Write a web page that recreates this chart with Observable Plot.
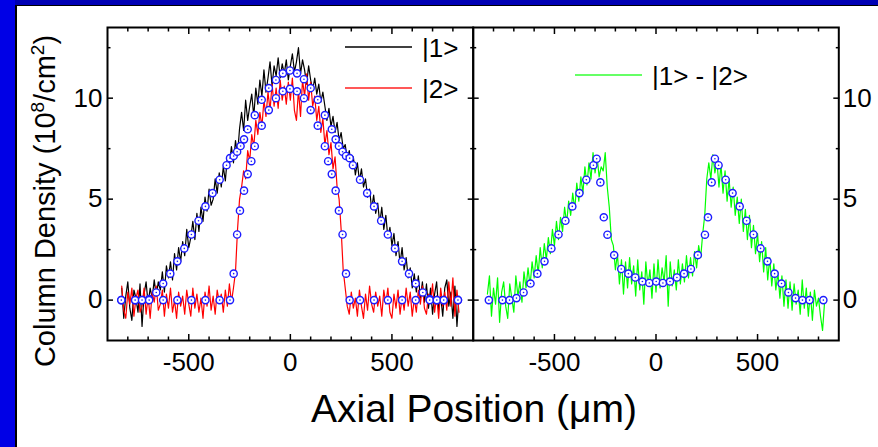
<!DOCTYPE html>
<html><head><meta charset="utf-8">
<script src="https://cdn.jsdelivr.net/npm/d3@7"></script>
<script src="https://cdn.jsdelivr.net/npm/@observablehq/plot@0.6"></script>
<style>
body{margin:0;background:#fff;}
#wrap{position:relative;width:878px;height:447px;overflow:hidden;background:#fff;font-family:"Liberation Sans",Arial,sans-serif;}
.abs{position:absolute;top:0;}
</style></head><body>
<div id="wrap">
<div style="position:absolute;left:0;top:0;width:878px;height:5px;background:#0000b4"></div>
<div style="position:absolute;left:0;top:0;width:15px;height:447px;background:#0000e6"></div>
<div style="position:absolute;left:15px;top:4.5px;width:863px;height:1.5px;background:#000"></div>
<div style="position:absolute;left:15px;top:4.5px;width:1.5px;height:443px;background:#000"></div>
<div id="left" class="abs" style="left:0"></div>
<div id="right" class="abs" style="left:400px"></div>
<svg class="abs" style="left:0;pointer-events:none" width="878" height="447" font-family="'Liberation Sans',Arial,sans-serif">
  <g id="legend"></g>
  <text x="474" y="421.5" text-anchor="middle" font-size="39">Axial Position (μm)</text>
  <text transform="translate(55,201) rotate(-90)" text-anchor="middle" font-size="29">Column Density (10<tspan font-size="19" dy="-11">8</tspan><tspan dy="11">/cm</tspan><tspan font-size="19" dy="-11">2</tspan><tspan dy="11">)</tspan></text>
</svg>
</div>
<script>
// Axial position grid (μm)
const xGrid = [
 -830,-820,-810,-800,-790,-780,-770,-760,-750,-740,
 -730,-720,-710,-700,-690,-680,-670,-660,-650,-640,
 -630,-620,-610,-600,-590,-580,-570,-560,-550,-540,
 -530,-520,-510,-500,-490,-480,-470,-460,-450,-440,
 -430,-420,-410,-400,-390,-380,-370,-360,-350,-340,
 -330,-320,-310,-300,-290,-280,-270,-260,-250,-240,
 -230,-220,-210,-200,-190,-180,-170,-160,-150,-140,
 -130,-120,-110,-100,-90,-80,-70,-60,-50,-40,
 -30,-20,-10,0,10,20,30,40,50,60,
 70,80,90,100,110,120,130,140,150,160,
 170,180,190,200,210,220,230,240,250,260,
 270,280,290,300,310,320,330,340,350,360,
 370,380,390,400,410,420,430,440,450,460,
 470,480,490,500,510,520,530,540,550,560,
 570,580,590,600,610,620,630,640,650,660,
 670,680,690,700,710,720,730,740,750,760,
 770,780,790,800,810,820,830];
// |1> column density (10^8/cm^2)
const state1 = [
 0.6,-0.9,0.2,0.9,-0.4,-1.0,0.5,0.1,-0.6,0.8,
 -1.3,0.3,0.9,-0.2,0.6,0.1,1.0,0.2,0.9,0.5,
 1.4,0.4,1.7,1.1,1.9,1.0,2.3,1.5,2.6,1.9,
 2.9,2.2,3.5,2.6,3.1,3.9,3.0,4.3,3.4,4.6,
 3.9,5.1,4.4,5.5,4.7,5.0,6.0,5.3,6.3,5.6,
 6.6,5.9,7.1,6.7,7.6,6.8,7.9,7.2,8.5,9.3,
 8.4,9.9,8.9,9.6,10.2,9.1,10.5,9.7,10.9,10.1,
 11.4,10.3,11.0,11.8,10.6,11.6,11.1,12.0,11.0,11.7,
 11.2,11.9,10.9,11.6,12.2,11.3,11.8,12.5,11.2,11.9,
 11.4,10.7,11.6,10.9,10.4,11.0,10.2,10.7,9.8,10.3,
 9.6,8.9,9.5,8.6,9.1,8.3,8.8,7.9,8.3,7.5,
 7.7,7.0,7.4,6.6,7.1,6.2,6.8,5.9,6.5,5.6,
 6.0,5.1,5.5,4.5,5.2,4.3,4.8,3.8,4.6,3.5,
 4.2,3.1,3.6,2.7,3.3,2.2,2.9,1.8,2.6,1.5,
 2.1,1.1,1.6,0.6,1.3,0.4,1.2,0.1,0.9,-0.1,
 0.8,-0.4,0.6,-0.7,0.3,0.9,-0.5,0.2,-0.8,0.6,
 1.0,-0.3,0.4,-0.9,0.7,-1.3,0.2];
// |2> column density
const state2 = [
 0.7,-0.5,-0.9,0.4,-0.2,0.6,-0.8,0.1,0.5,-0.6,
 -0.3,0.6,-0.7,0.2,-0.9,0.4,-0.1,0.7,-0.5,-0.2,
 0.5,-0.8,0.3,-0.4,0.6,-0.6,0.0,-0.9,0.4,-0.3,
 0.2,-0.7,0.5,-0.2,-0.8,0.6,-0.4,0.3,-0.6,0.1,
 -0.9,0.4,-0.3,0.7,-0.5,0.2,-0.7,0.5,-0.1,0.3,
 -0.6,0.5,-0.3,0.8,-0.1,0.6,1.4,3.5,5.0,5.6,
 6.4,6.0,7.4,6.9,8.2,7.6,8.9,8.2,9.3,8.6,
 9.9,9.1,10.3,9.4,10.7,9.6,10.5,9.5,10.9,9.9,
 10.6,9.7,10.8,9.9,11.0,9.4,8.9,10.4,9.1,10.9,
 10.1,11.2,9.9,10.8,9.6,10.1,8.9,9.6,8.3,9.0,
 7.7,8.4,7.2,7.8,6.5,7.1,5.6,5.0,3.5,1.5,
 0.6,-0.3,-0.7,0.4,-0.4,0.1,-0.8,0.5,-0.3,-0.9,
 0.3,-0.5,0.7,-0.2,-0.6,0.4,-0.3,0.2,-0.8,0.5,
 -0.2,0.6,-0.6,-0.9,0.3,-0.4,0.5,-0.7,0.2,-0.5,
 0.6,-0.3,0.4,-0.8,0.1,-0.6,0.5,-0.2,0.7,-0.4,
 -0.7,0.3,-0.1,0.8,-0.6,0.2,-0.9,0.6,-0.3,0.4,
 -0.5,0.9,-0.3,1.1,-0.8,0.5,-0.6];
// |1> - |2> column density
const diff12 = [
 0.3,1.2,-0.8,0.6,-0.2,1.1,-1.1,0.4,0.9,-0.3,
 -0.9,0.8,0.1,-0.6,1.2,0.2,0.9,-0.1,1.4,0.6,
 1.6,0.7,1.9,1.1,2.2,1.3,2.6,1.6,2.8,2.0,
 3.1,2.3,3.5,2.7,3.9,3.0,4.1,3.4,4.6,3.8,
 4.9,4.2,5.3,4.5,5.8,4.9,6.1,5.3,6.6,5.7,
 6.8,6.0,7.3,6.3,7.1,6.1,6.6,6.4,7.3,5.6,
 4.6,3.0,2.7,1.5,2.3,0.8,2.0,0.3,1.9,0.6,
 2.1,0.8,1.7,0.2,2.0,0.5,1.4,-0.2,1.9,0.7,
 1.5,0.1,1.8,0.4,2.0,0.6,1.6,0.9,2.2,-0.3,
 1.9,0.7,1.5,0.5,2.0,0.8,1.8,0.9,2.2,1.1,
 2.1,1.2,2.4,1.6,2.7,2.1,3.3,4.2,6.0,6.8,
 6.0,7.2,6.3,6.9,5.6,6.7,5.3,6.4,4.9,6.0,
 4.6,5.6,4.2,5.1,3.8,5.0,3.4,4.5,3.0,4.2,
 2.6,3.7,2.3,3.3,1.9,2.9,1.4,2.6,1.0,2.1,
 0.7,1.8,0.5,1.4,0.1,1.2,-0.3,1.0,-0.4,0.9,
 -0.5,0.8,-0.2,0.5,-0.7,1.0,-0.4,0.6,-0.8,0.4,
 -1.0,0.5,-0.3,0.1,-0.8,-1.5,-0.1];
// Fit points (open circles)
const fit1X = [-832,-764,-730,-695,-660,-626,-591,-556,-522,-487,-452,-418,-383,-348,-314,-297,-279,-262,-245,-228,-210,-175,-141,-106,-71,-37,-2,33,67,100,135,170,204,223,239,257,274,292,308,343,378,412,447,480,515,550,584,617,652,686,721,755,825];
const fit1Y = [0,0,0,0.05,0.38,0.82,1.31,1.92,2.56,3.25,3.93,4.64,5.3,5.96,6.68,7.03,7.14,7.35,7.63,7.96,8.46,9.16,9.92,10.5,10.9,11.23,11.37,11.23,10.94,10.5,9.92,9.16,8.46,7.96,7.63,7.35,7.14,7.03,6.68,5.96,5.3,4.64,3.93,3.25,2.56,1.92,1.31,0.82,0.38,0.05,0,0,0];
const fit2X = [-832,-764,-730,-695,-626,-556,-487,-418,-348,-297,-279,-262,-248,-228,-210,-192,-175,-141,-106,-71,-37,-2,33,67,100,135,170,186,204,223,239,257,274,292,343,412,480,550,617,686,721,755,825];
const fit2Y = [0,0,0,0,0,0,0,0,0,0,1.31,3.25,4.43,5.42,6.24,6.88,7.62,8.64,9.41,10.0,10.34,10.46,10.34,10.0,9.41,8.64,7.62,6.88,6.24,5.42,4.43,3.25,1.31,0,0,0,0,0,0,0,0,0,0];
const fitDX = [-823,-756,-721,-687,-652,-618,-584,-549,-515,-480,-446,-412,-377,-343,-308,-292,-274,-257,-239,-206,-171,-136,-102,-67,-33,1,34,69,103,138,172,206,241,256,274,290,308,343,377,412,446,480,515,549,584,618,652,687,721,756,824];
const fitDY = [0,0,0,0.1,0.38,0.82,1.31,1.92,2.56,3.25,3.93,4.64,5.3,5.96,6.68,7.0,5.83,4.1,3.24,2.23,1.54,1.31,1.12,0.92,0.85,0.92,0.85,0.92,1.12,1.31,1.54,2.23,3.24,4.1,5.83,7.0,6.68,5.96,5.3,4.64,3.93,3.25,2.56,1.92,1.31,0.82,0.38,0.1,0,0,0];
// Ticks
const xMajorTicks = [-500, 0, 500];
const xMinorTicks = [-800,-700,-600,-400,-300,-200,-100,100,200,300,400,600,700,800];
const yMajorTicks = [0, 5, 10];
const yMinorTicks = [2.5, 7.5, 12.5];
const legendLeft = ["|1>", "|2>"];
const legendRight = ["|1> - |2>"];

const toPts = (xs, ys) => xs.map((x, i) => ({x, y: ys[i]}));
const d1 = toPts(xGrid, state1), d2 = toPts(xGrid, state2), dd = toPts(xGrid, diff12);
const f1 = toPts(fit1X, fit1Y), f2 = toPts(fit2X, fit2Y), fd = toPts(fitDX, fitDY);
const BLUE = "#1c1cff";
const font = "'Liberation Sans', Arial, sans-serif";

function frameMarks(side) {
  return [
    Plot.frame({stroke: "black", strokeWidth: 2}),
    Plot.axisX(xMajorTicks, {anchor: "bottom", tickSize: -6, strokeWidth: 1.5, fill: "none", label: null}),
    Plot.axisX(xMinorTicks, {anchor: "bottom", tickSize: -3.5, strokeWidth: 1.5, fill: "none", label: null}),
    Plot.axisX(xMajorTicks, {anchor: "top", tickSize: -6, strokeWidth: 1.5, fill: "none", label: null}),
    Plot.axisX(xMinorTicks, {anchor: "top", tickSize: -3.5, strokeWidth: 1.5, fill: "none", label: null}),
    Plot.axisY(yMajorTicks, {anchor: "left", tickSize: -6, strokeWidth: 1.5, fill: "none", label: null}),
    Plot.axisY(yMinorTicks, {anchor: "left", tickSize: -3.5, strokeWidth: 1.5, fill: "none", label: null}),
    Plot.axisY(yMajorTicks, {anchor: "right", tickSize: -6, strokeWidth: 1.5, fill: "none", label: null}),
    Plot.axisY(yMinorTicks, {anchor: "right", tickSize: -3.5, strokeWidth: 1.5, fill: "none", label: null}),
    Plot.axisX(xMajorTicks, {anchor: "bottom", tickSize: 0, tickPadding: 12, tickFormat: d => String(d), fontSize: 26, label: null}),
    Plot.axisY(yMajorTicks, {anchor: side, tickSize: 0, tickPadding: side === "left" ? 5 : 4, tickFormat: d => String(d), fontSize: 26, label: null})
  ];
}

function fitDots(data) {
  return [
    Plot.dot(data, {x: "x", y: "y", r: 3.6, stroke: BLUE, fill: "white", strokeWidth: 1.4}),
    Plot.dot(data, {x: "x", y: "y", r: 0.8, fill: BLUE, stroke: "none"})
  ];
}

const common = {
  height: 380, marginTop: 27, marginBottom: 40,
  x: {domain: [-900, 900], label: null},
  y: {domain: [-2, 13.5], label: null},
  style: {fontFamily: font, fontSize: "26px", background: "transparent", color: "black", overflow: "visible"}
};

const left = Plot.plot({
  ...common, width: 478, marginLeft: 107, marginRight: 5.3,
  marks: [
    Plot.line(d1, {x: "x", y: "y", stroke: "black", strokeWidth: 1.2}),
    Plot.line(d2, {x: "x", y: "y", stroke: "#ff0000", strokeWidth: 1.2}),
    ...fitDots(f1), ...fitDots(f2),
    ...frameMarks("left")
  ]
});
const right = Plot.plot({
  ...common, width: 478, marginLeft: 72.7, marginRight: 39.7,
  marks: [
    Plot.line(dd, {x: "x", y: "y", stroke: "#00ff00", strokeWidth: 1.2}),
    ...fitDots(fd),
    ...frameMarks("right")
  ]
});
document.getElementById("left").appendChild(left);
document.getElementById("right").appendChild(right);

// Legends
const lg = d3.select("#legend");
const leftColors = ["black", "#ff2020"];
legendLeft.forEach((t, i) => {
  const y = 47 + i * 41;
  lg.append("line").attr("x1", 345).attr("x2", 412).attr("y1", y).attr("y2", y).attr("stroke", leftColors[i]).attr("stroke-width", 1.5);
  lg.append("text").attr("x", 422).attr("y", y + 10).attr("font-size", 26).text(t);
});
legendRight.forEach(t => {
  lg.append("line").attr("x1", 575).attr("x2", 642).attr("y1", 75).attr("y2", 75).attr("stroke", "#33ff33").attr("stroke-width", 1.5);
  lg.append("text").attr("x", 652).attr("y", 85).attr("font-size", 26).text(t);
});
</script>
</body></html>
